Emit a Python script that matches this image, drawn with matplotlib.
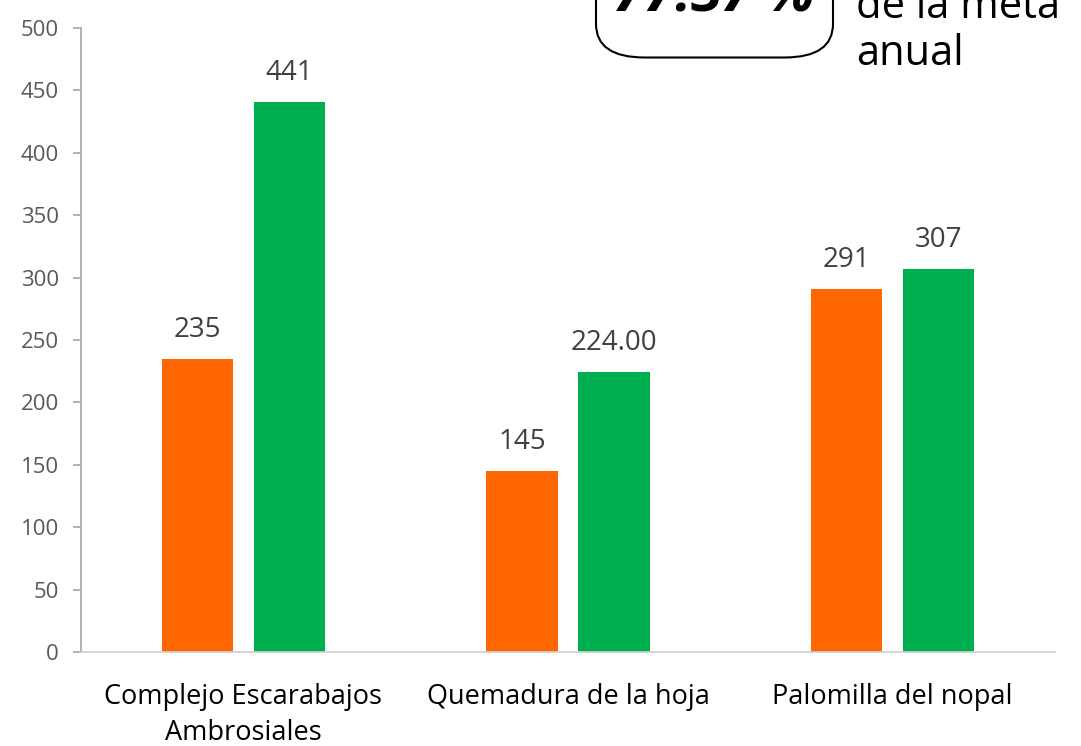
import matplotlib.pyplot as plt
import numpy as np
from matplotlib.patches import FancyBboxPatch

categorias = ["Complejo Escarabajos\nAmbrosiales", "Quemadura de la hoja", "Palomilla del nopal"]
serie_naranja = [235, 145, 291]
serie_verde = [441, 224, 307]
etiquetas_naranja = ["235", "145", "291"]
etiquetas_verde = ["441", "224.00", "307"]
porcentaje = "77.37 %"
texto_meta = "de la meta\nanual"

plt.rcParams['font.family'] = ['Open Sans', 'DejaVu Sans']

fig = plt.figure(figsize=(10.81, 7.46), dpi=100, facecolor='white')
ax = fig.add_axes([0.0749, 0.126, 0.901, 0.8365])

x = np.arange(len(categorias))
ancho = 0.22
ax.bar(x - 0.1415, serie_naranja, ancho, color='#FF6600')
ax.bar(x + 0.1415, serie_verde, ancho, color='#00B050')

for xi, v, t in zip(x, serie_naranja, etiquetas_naranja):
    ax.text(xi - 0.1415, v + 12, t, ha='center', va='bottom', fontsize=20, color='#404040')
for xi, v, t in zip(x, serie_verde, etiquetas_verde):
    ax.text(xi + 0.1415, v + 12, t, ha='center', va='bottom', fontsize=20, color='#404040')

ax.set_xlim(-0.5, 2.5)
ax.set_ylim(0, 500)
ax.set_yticks(range(0, 501, 50))
ax.tick_params(axis='y', labelsize=16, labelcolor='#595959', color='#A6A6A6', length=6, width=1.2, pad=10)
ax.set_xticks(x)
ax.set_xticklabels(categorias, fontsize=19.5, color='black', linespacing=1.4)
ax.tick_params(axis='x', length=0, pad=22)

for s in ['top', 'right']:
    ax.spines[s].set_visible(False)
ax.spines['left'].set_color('#A6A6A6')
ax.spines['bottom'].set_color('#D0D0D0')
ax.spines['left'].set_linewidth(1.2)
ax.spines['bottom'].set_linewidth(1.2)

# recuadro con el porcentaje (cortado arriba)
caja = FancyBboxPatch((596 / 1081, 1 - 57.5 / 746), 237 / 1081, 0.2,
                      boxstyle="round,pad=0,rounding_size=0.045",
                      transform=fig.transFigure, fill=False, edgecolor='black',
                      linewidth=1.5, mutation_aspect=746 / 1081 * 1.45)
fig.patches.append(caja)
fig.text(714 / 1081, 1 - 12 / 746, porcentaje, ha='center', va='baseline', fontsize=40,
         fontweight='bold', fontstyle='italic', color='black')
fig.text(856 / 1081, 1 - 65 / 746, texto_meta, ha='left', va='baseline', fontsize=30,
         color='black', linespacing=1.15)

fig.savefig('out.png', dpi=100)
